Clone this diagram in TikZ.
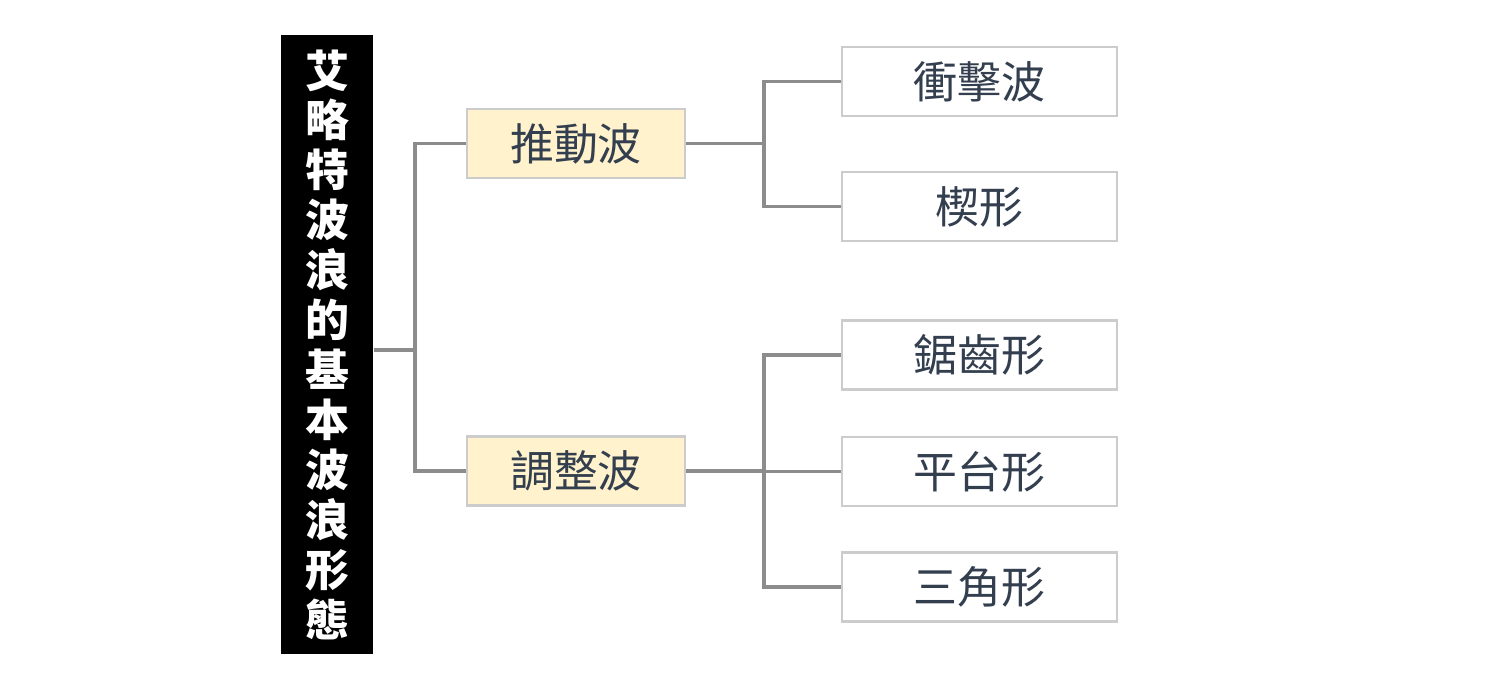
\documentclass[tikz,border=0pt]{standalone}
\usepackage{fontspec}
\newfontfamily\cjk{Noto Sans CJK TC}
\usetikzlibrary{positioning}
\definecolor{linegray}{HTML}{8C8C8C}
\definecolor{boxgray}{HTML}{CCCCCC}
\definecolor{pale}{HTML}{FFF2CC}
\definecolor{ink}{HTML}{333F4F}

\begin{document}
\begin{tikzpicture}[
    thick,
    conn/.style={draw=linegray, line width=0.9pt},
    rootbox/.style={fill=black, text=white, minimum width=0.92cm, minimum height=6.19cm,
      inner sep=0pt, align=center, font=\cjk\fontsize{12.5}{14.2}\selectfont\bfseries},
    midbox/.style={draw=boxgray, fill=pale, minimum width=2.18cm, minimum height=0.69cm,
      text=ink, font=\cjk\fontsize{12.5}{14}\selectfont},
    leafbox/.style={draw=boxgray, fill=white, minimum width=2.75cm, minimum height=0.69cm,
      text=ink, font=\cjk\fontsize{12.5}{14}\selectfont}
  ]
  \useasboundingbox (0,0) rectangle (14.88,6.98);

  % --- NODES ---
  \node[rootbox] (root) at (3.27,3.535) {艾\\略\\特\\波\\浪\\的\\基\\本\\波\\浪\\形\\態};

  \node[midbox] (push) at (5.76,5.545) {推動波};
  \node[midbox] (adj) at (5.76,2.27) {調整波};

  \node[leafbox] (impulse) at (9.795,6.165) {衝擊波};
  \node[leafbox] (wedge) at (9.795,4.915) {楔形};
  \node[leafbox] (zigzag) at (9.795,3.43) {鋸齒形};
  \node[leafbox] (flat) at (9.795,2.265) {平台形};
  \node[leafbox] (tri) at (9.795,1.11) {三角形};

  % --- CONNECTORS ---
  \coordinate (j0) at (4.15,3.48);
  \coordinate (j1) at (7.64,5.545);
  \coordinate (j2) at (7.64,2.27);

  \draw[conn] (root.east |- j0) -- (j0);
  \draw[conn] (j0) |- (push.west);
  \draw[conn] (j0) |- (adj.west);

  \draw[conn] (push.east) -- (j1);
  \draw[conn] (j1) |- (impulse.west);
  \draw[conn] (j1) |- (wedge.west);

  \draw[conn] (adj.east) -- (j2);
  \draw[conn] (j2) |- (zigzag.west);
  \draw[conn] (j2) |- (flat.west);
  \draw[conn] (j2) |- (tri.west);

\end{tikzpicture}
\end{document}
